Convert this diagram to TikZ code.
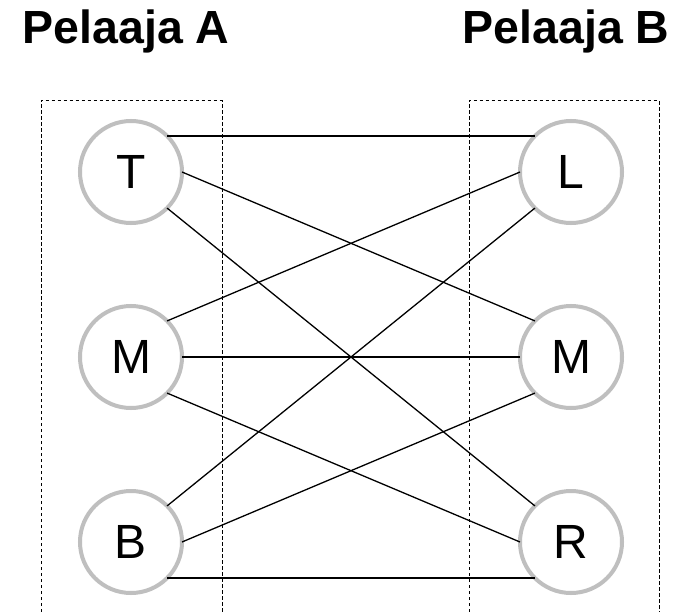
\documentclass[tikz,border=0pt]{standalone}
\usepackage{fontspec}
\setmainfont{Liberation Sans}
\begin{document}
\begin{tikzpicture}[x=1bp,y=-1bp,
  player/.style={circle,draw=black!25,line width=4bp,fill=white,minimum size=102bp,inner sep=0pt,outer sep=0pt,font=\fontsize{48bp}{52bp}\selectfont},
  title/.style={font=\bfseries\fontsize{46.5bp}{50bp}\selectfont,inner sep=0pt,anchor=base},
  edge/.style={draw=black,line width=1.3bp},
  frame/.style={draw=black,line width=1bp,dash pattern=on 3.5bp off 2.5bp}]
\useasboundingbox (0,0) rectangle (681,612);
\fill[white] (0,0) rectangle (681,612);
% titles
\node[title] (ta) at (126,44) {Pelaaja A};
\node[title] (tb) at (566,44) {Pelaaja B};
% dashed frames
\coordinate (fa1) at (41,612); \coordinate (fa2) at (41,100.7);
\coordinate (fa3) at (222,100.7); \coordinate (fa4) at (222,612);
\coordinate (fb1) at (469,612); \coordinate (fb2) at (469,100.7);
\coordinate (fb3) at (659,100.7); \coordinate (fb4) at (659,612);
\draw[frame] (fa1) -- (fa2) -- (fa3) -- (fa4);
\draw[frame] (fb1) -- (fb2) -- (fb3) -- (fb4);
% players
\node[player] (T) at (131,172) {T};
\node[player] (MA) at (131,357) {M};
\node[player] (B) at (131,542) {B};
\node[player] (L) at (571,172) {L};
\node[player] (MB) at (571,357) {M};
\node[player] (R) at (571,542) {R};
% edges
\draw[edge] (T.north east) -- (L.north west);
\draw[edge] (T.east) -- (MB.north west);
\draw[edge] (T.south east) -- (R.north west);
\draw[edge] (MA.north east) -- (L.west);
\draw[edge] (MA.east) -- (MB.west);
\draw[edge] (MA.south east) -- (R.west);
\draw[edge] (B.north east) -- (L.south west);
\draw[edge] (B.east) -- (MB.south west);
\draw[edge] (B.south east) -- (R.south west);
\end{tikzpicture}
\end{document}
